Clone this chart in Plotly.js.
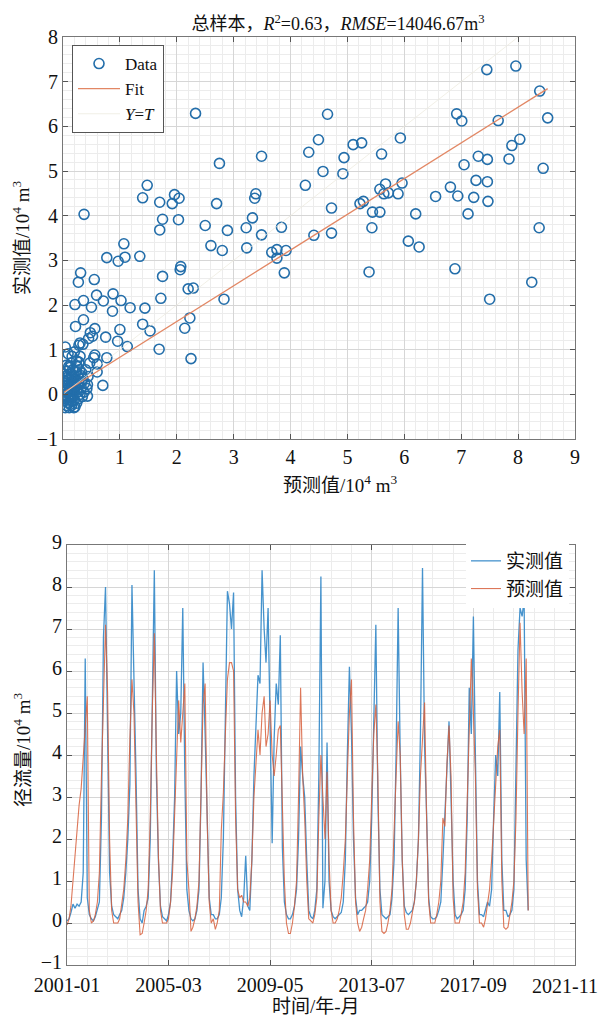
<!DOCTYPE html>
<html><head><meta charset="utf-8">
<script src="https://cdn.plot.ly/plotly-3.0.1.min.js"></script>
<style>html,body{margin:0;padding:0;background:#fff;}</style>
</head><body><div id="chart" style="width:601px;height:1017px;"></div>
<script>
// ---------- scatter: predicted (x) vs observed (y), 10^4 m3 ----------
const scatterPred = [
2.33,2.75,3.49,4.32,0.37,1.48,1.40,1.70,1.96,2.04,1.92,2.70,3.39,3.37,1.75,2.03,2.50,3.33,3.84,3.22,
2.89,1.70,3.49,1.07,0.77,0.97,1.09,1.35,2.60,2.80,3.23,3.67,3.76,3.92,3.76,3.89,0.31,0.27,0.55,1.75,
2.07,2.06,0.59,0.88,0.71,0.36,0.21,0.50,1.02,1.18,1.44,0.87,1.72,2.20,2.29,2.23,2.14,1.40,1.53,1.00,
0.75,0.96,1.13,1.69,2.25,2.83,0.77,0.70,0.36,0.22,0.56,0.48,0.52,0.45,0.30,0.35,0.28,0.04,0.09,0.56,
0.54,0.28,0.47,0.60,0.60,0.33,0.42,0.43,
7.45,7.96,8.38,6.92,7.01,4.65,7.65,8.52,4.49,5.10,5.25,5.93,5.60,4.94,8.03,7.89,7.30,7.46,7.84,4.57,
4.92,7.05,8.44,4.26,5.67,5.57,5.64,5.72,5.89,5.96,6.81,7.26,7.46,6.94,7.22,7.47,6.55,4.72,5.22,5.28,
5.44,5.57,6.20,7.12,5.43,8.37,4.41,4.72,6.07,6.26,5.38,6.89,8.24,7.50,
0.02,0.05,0.08,0.03,0.10,0.12,0.15,0.06,0.18,0.20,0.09,0.14,0.22,0.25,0.04,0.11,0.16,0.07,0.13,0.19,
0.24,0.28,0.30,0.02,0.05,0.17,0.21,0.26,0.32,0.08,0.10,0.14,0.12,0.18,0.23,0.27,0.06,0.15,0.20,0.35,
0.03,0.09,0.13,0.16,0.22,0.29,0.11,0.04,0.19,0.25,0.34,0.38,0.07,0.17,0.31,0.40,0.15,0.26,0.10,0.05,
0.21,0.12,0.18,0.08,0.33,0.14,0.24,0.37,0.44,0.20,0.10,0.30,0.16,0.06,0.43];
const scatterObs = [
6.29,5.17,5.33,5.42,4.03,4.68,4.40,4.30,4.47,4.39,4.27,4.27,4.49,4.39,3.92,3.91,3.78,3.95,3.74,3.73,
3.67,3.68,3.57,3.37,3.06,2.98,3.07,3.09,3.33,3.22,3.28,3.18,3.24,3.22,3.05,2.72,2.72,2.51,2.57,2.64,
2.86,2.79,2.22,2.25,2.09,2.10,2.01,1.95,2.10,1.94,1.93,1.86,2.15,2.36,2.38,1.71,1.48,1.57,1.42,1.45,
1.28,1.19,1.07,1.01,0.80,2.13,0.82,0.20,1.67,1.52,1.47,1.38,1.30,1.25,1.15,1.12,1.10,1.06,0.91,0.88,
0.82,0.72,0.70,0.68,0.50,0.48,0.13,-0.04,
7.27,7.35,6.79,6.28,6.12,6.27,6.13,6.19,5.70,5.59,5.63,5.74,5.38,5.30,5.71,5.57,5.33,5.26,5.27,4.99,
4.94,5.14,5.06,4.68,4.71,4.59,4.49,4.51,4.49,4.73,4.64,4.79,4.76,4.44,4.41,4.32,4.43,4.17,4.27,4.32,
4.08,4.08,4.04,4.04,3.73,3.73,3.56,3.61,3.43,3.30,2.74,2.81,2.51,2.13,
0.05,-0.10,0.12,0.30,-0.20,0.00,0.20,-0.25,-0.05,0.15,0.45,0.38,0.50,0.05,0.18,-0.30,-0.15,0.25,0.10,0.32,
-0.20,0.25,0.00,-0.15,0.40,0.55,-0.28,0.40,0.15,-0.05,0.22,-0.08,0.60,0.08,0.30,-0.10,0.08,0.45,-0.12,0.35,
-0.02,0.33,-0.22,0.28,0.18,0.55,0.15,-0.30,-0.30,0.62,-0.05,0.25,0.52,0.00,0.42,0.55,-0.25,0.12,0.05,0.20,
0.40,-0.12,0.22,0.38,0.28,0.70,0.75,0.05,0.40,0.95,0.62,0.85,0.85,0.65,0.22];
// fitted line: y = fitSlope * x + fitIntercept
const fitSlope = 0.80;
const fitIntercept = 0.03;

// ---------- monthly runoff series, 2001-01 .. 2019-12 (10^4 m3) ----------
const startMonth = '2001-01';
const observed = [
0.05,0.1,0.25,0.45,0.35,0.45,0.4,0.5,1.2,6.3,0.6,0.2,
0.1,0.05,0.15,0.3,0.5,2.5,6.8,8.0,4.0,1.2,0.4,0.2,
0.15,0.1,0.2,0.3,0.6,1.2,2.0,3.3,8.05,6.0,3.5,0.8,
0.1,0.0,0.3,0.4,0.6,2.0,5.5,8.4,3.5,1.5,0.4,0.15,
0.1,0.05,0.2,0.5,1.5,3.0,6.0,4.5,5.0,7.5,3.5,0.8,
0.3,0.1,0.05,0.1,0.3,0.8,3.0,6.2,4.5,2.5,0.6,0.2,
0.2,0.1,0.1,0.2,0.6,2.0,5.0,7.9,7.6,7.0,7.87,3.0,
0.8,0.3,0.15,0.6,1.6,0.4,0.3,1.5,3.5,4.5,5.9,5.7,
8.4,7.0,6.2,7.5,4.4,1.9,4.4,5.7,5.2,6.85,1.8,0.5,
0.2,0.1,0.1,0.2,0.4,0.8,2.0,4.2,3.5,3.0,1.5,0.3,
0.15,0.1,0.3,0.8,3.5,8.25,0.35,1.0,4.3,1.0,0.3,0.15,
0.1,0.15,0.2,0.25,0.5,1.5,4.0,6.1,4.5,2.0,0.6,0.2,
0.3,0.3,0.35,0.4,0.5,1.0,2.5,5.0,7.1,3.0,0.8,0.2,
0.15,0.1,0.15,0.2,0.6,1.5,4.0,7.5,4.0,1.5,0.4,0.25,
0.2,0.25,0.3,0.5,1.0,2.0,4.5,8.45,4.2,2.6,0.6,0.15,
0.1,0.1,0.15,0.3,0.5,1.5,2.5,3.5,4.8,3.0,1.0,0.2,
0.1,0.15,0.2,0.3,0.8,2.5,5.6,4.5,7.3,4.0,1.0,0.2,
0.2,0.15,0.3,0.5,0.4,0.8,2.5,4.0,3.5,5.5,1.5,0.3,
0.3,0.15,0.2,0.3,0.8,3.5,6.5,7.5,7.3,7.7,1.5,0.3];
const predicted = [
-0.05,0.1,0.4,1.0,1.7,2.3,2.8,3.2,4.0,4.6,5.4,0.3,
0.0,0.05,0.2,0.5,1.2,3.5,5.5,7.1,5.5,2.0,0.3,0.0,
0.0,0.0,0.1,0.4,0.8,1.5,2.5,4.4,5.8,5.0,3.0,0.5,
-0.28,-0.25,0.0,0.3,0.8,2.5,5.0,6.9,4.0,1.6,0.3,0.0,
0.0,0.0,0.1,0.5,1.2,2.5,4.0,5.3,4.3,5.0,5.7,1.5,
0.8,-0.2,-0.1,0.1,0.4,1.0,3.5,5.2,5.7,2.5,0.5,0.0,
0.1,-0.15,0.0,0.3,2.2,3.1,4.5,5.8,6.2,6.2,6.0,2.5,
0.8,0.6,0.66,0.5,0.5,0.4,0.6,1.5,3.0,3.7,4.6,4.0,
5.0,5.4,4.2,4.5,5.3,4.0,3.5,4.0,4.6,4.7,3.0,1.0,
0.0,-0.25,-0.25,0.0,0.4,1.0,3.0,5.6,3.5,2.5,1.0,0.1,
0.05,0.0,0.2,0.6,2.5,4.0,3.0,2.0,3.6,1.5,0.3,0.0,
0.0,0.1,0.3,0.6,1.2,2.0,3.5,5.0,5.8,2.5,0.5,0.0,
-0.2,-0.1,0.1,0.3,0.8,1.5,3.0,4.5,5.2,3.5,0.5,-0.2,
-0.25,-0.2,0.0,0.3,0.8,2.0,3.5,4.8,4.0,1.5,0.2,-0.15,
-0.15,0.0,0.2,0.5,1.0,2.0,3.5,4.5,5.25,2.5,0.5,0.0,
0.0,0.0,0.2,0.5,1.0,2.5,2.3,3.8,4.7,3.5,0.6,0.0,
0.0,0.0,0.2,0.5,1.2,3.0,4.5,6.3,5.0,3.5,0.8,0.0,
0.0,-0.1,0.1,0.5,0.8,1.5,2.5,3.5,4.2,4.6,1.0,-0.1,
-0.15,-0.1,0.2,0.5,1.0,2.5,5.0,7.15,5.5,4.5,6.3,0.3];

// tick / label texts
const titleText = '总样本，<i>R</i><sup>2</sup>=0.63，<i>RMSE</i>=14046.67m<sup>3</sup>';
const topXTitle = '预测值/10<sup>4</sup> m<sup>3</sup>';
const topYTitle = '实测值/10<sup>4</sup> m<sup>3</sup>';
const botXTitle = '时间/年-月';
const botYTitle = '径流量/10<sup>4</sup> m<sup>3</sup>';
const legendNames = ['Data','Fit','<i>Y</i>=<i>T</i>','实测值','预测值'];
const dateTickStart = '2001-01-01', dateTickStep = 'M50', dateRangeEnd = '2021-11-01';
const lastDateTickLabel = '2021-11';

// ---------- build ----------
function monthDates(start, n){
  const [y0,m0] = start.split('-').map(Number);
  const out=[];
  for(let i=0;i<n;i++){
    const t=(m0-1)+i, y=y0+Math.floor(t/12), m=(t%12)+1;
    out.push(y+'-'+String(m).padStart(2,'0')+'-01');
  }
  return out;
}
const dates = monthDates(startMonth, observed.length);
const xmin = Math.min(...scatterPred), xmax = Math.max(...scatterPred);

const FONT = 'Liberation Serif, Noto Sans CJK SC, serif';
const W=601,H=1017;
const px=(v)=>v/W, py=(v)=>1-v/H;

const traces = [
 {type:'scatter', mode:'markers', x:scatterPred, y:scatterObs, name:legendNames[0], xaxis:'x', yaxis:'y',
  marker:{symbol:'circle-open', size:10, color:'rgb(35,110,170)', line:{width:1.6}}, legend:'legend'},
 {type:'scatter', mode:'lines', x:[xmin,xmax], y:[fitSlope*xmin+fitIntercept, fitSlope*xmax+fitIntercept],
  name:legendNames[1], xaxis:'x', yaxis:'y', line:{color:'rgb(226,135,100)', width:1.4}, legend:'legend'},
 {type:'scatter', mode:'lines', x:[xmin,xmax], y:[xmin,xmax], name:legendNames[2], xaxis:'x', yaxis:'y',
  line:{color:'rgba(235,232,220,0.7)', width:1}, legend:'legend'},
 {type:'scatter', mode:'lines', x:dates, y:observed, name:legendNames[3], xaxis:'x2', yaxis:'y2',
  line:{color:'rgb(50,135,200)', width:1.3}, opacity:0.9, legend:'legend2'},
 {type:'scatter', mode:'lines', x:dates, y:predicted, name:legendNames[4], xaxis:'x2', yaxis:'y2',
  line:{color:'rgb(215,95,60)', width:1.1}, opacity:0.85, legend:'legend2'}
];

function tf(){ return {family:FONT, size:20, color:'#111'}; }
function axisCommon(){ return {ticks:'inside', ticklen:5, tickcolor:'#555', showline:true, mirror:'ticks',
  linecolor:'#777', linewidth:1, gridcolor:'#d6d6d6', gridwidth:1, zeroline:false, tickfont:tf(),
  fixedrange:true}; }

const layout = {
  width:W, height:H, margin:{l:0,r:0,t:0,b:0}, paper_bgcolor:'#fff', plot_bgcolor:'#fff',
  font:{family:FONT, color:'#111'},
  showlegend:true,
  title:{text:titleText, font:{family:FONT,size:18,color:'#111'}, x:px(338), xref:'container', xanchor:'center',
         y:py(24), yref:'container', yanchor:'middle'},
  xaxis:Object.assign(axisCommon(), {domain:[px(63),px(575)], anchor:'y', range:[0,9], tick0:0, dtick:1,
         minor:{tick0:0, dtick:0.2, showgrid:true, gridcolor:'#ececec', gridwidth:1}}),
  yaxis:Object.assign(axisCommon(), {domain:[py(439),py(37)], anchor:'x', range:[-1,8], tick0:0, dtick:1,
         minor:{tick0:0, dtick:0.2, showgrid:true, gridcolor:'#ececec', gridwidth:1}}),
  xaxis2:Object.assign(axisCommon(), {domain:[px(67),px(575)], anchor:'y2', type:'date',
         range:[dateTickStart, dateRangeEnd], tick0:dateTickStart, dtick:dateTickStep, tickformat:'%Y-%m',
         ticklabelstandoff:2,
         minor:{tick0:dateTickStart, dtick:'M10', showgrid:true, gridcolor:'#ececec', gridwidth:1}}),
  yaxis2:Object.assign(axisCommon(), {domain:[py(965),py(545)], anchor:'x2', range:[-1,9], tick0:0, dtick:1,
         ticklabelshift:-3,
         minor:{tick0:0, dtick:0.2, showgrid:true, gridcolor:'#ececec', gridwidth:1}}),
  legend:{x:px(72), y:py(45), xanchor:'left', yanchor:'top', xref:'paper', yref:'paper',
          bgcolor:'#fff', bordercolor:'#555', borderwidth:1, font:{family:FONT,size:17,color:'#111'},
          tracegroupgap:0, itemwidth:42},
  legend2:{x:px(466), y:py(542), xanchor:'left', yanchor:'top', xref:'paper', yref:'paper',
          bgcolor:'#fff', borderwidth:0, font:{family:FONT,size:19,color:'#111'}, tracegroupgap:0, itemwidth:30},
  annotations:[
    {text:topXTitle, x:px(340), y:py(484), xref:'paper', yref:'paper', showarrow:false, xanchor:'center', yanchor:'middle', font:{family:FONT,size:19,color:'#111'}},
    {text:topYTitle, x:px(21), y:py(238), xref:'paper', yref:'paper', showarrow:false, textangle:-90, xanchor:'center', yanchor:'middle', font:{family:FONT,size:19,color:'#111'}},
    {text:botYTitle, x:px(22), y:py(750), xref:'paper', yref:'paper', showarrow:false, textangle:-90, xanchor:'center', yanchor:'middle', font:{family:FONT,size:19,color:'#111'}},
    {text:botXTitle, x:px(316), y:py(1006), xref:'paper', yref:'paper', showarrow:false, xanchor:'center', yanchor:'middle', font:{family:FONT,size:19,color:'#111'}},
    {text:lastDateTickLabel, x:px(600), y:py(986), xref:'paper', yref:'paper', showarrow:false, xanchor:'right', yanchor:'middle', font:tf()}
  ]
};

Plotly.newPlot('chart', traces, layout, {staticPlot:true, displayModeBar:false});
</script>
</body></html>
